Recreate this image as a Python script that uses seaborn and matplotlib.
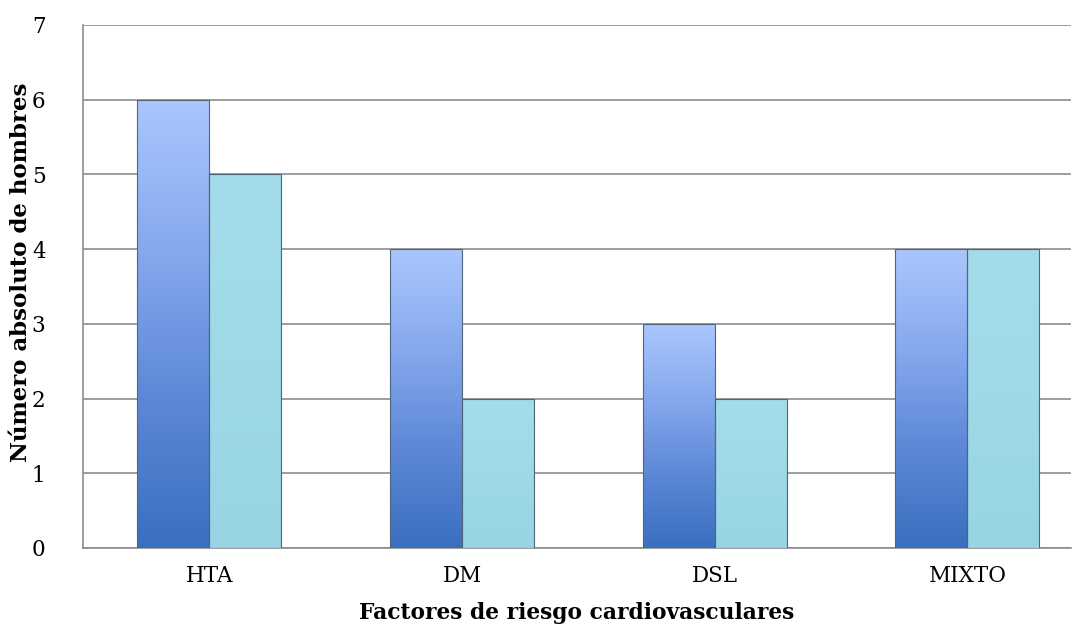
import numpy as np
import pandas as pd
import matplotlib
matplotlib.use("Agg")
import matplotlib.pyplot as plt
from matplotlib.colors import LinearSegmentedColormap
import seaborn as sns

categorias = ["HTA", "DM", "DSL", "MIXTO"]
serie_1 = [6, 4, 3, 4]
serie_2 = [5, 2, 2, 4]
series = ["Serie 1", "Serie 2"]

df = pd.DataFrame({
    "factor": categorias * 2,
    "valor": serie_1 + serie_2,
    "serie": [series[0]] * 4 + [series[1]] * 4,
})

sns.set_style("white")
plt.rcParams["font.family"] = ["DejaVu Serif"]
plt.rcParams["text.color"] = "black"
plt.rcParams["axes.labelcolor"] = "black"
plt.rcParams["xtick.color"] = "black"
plt.rcParams["ytick.color"] = "black"

fig = plt.figure(figsize=(10.84, 6.41), dpi=100)
ax = fig.add_axes([0.0766, 0.1451, 0.9114, 0.8159])

sns.barplot(data=df, x="factor", y="valor", hue="serie", order=categorias,
            hue_order=series, palette=["#6f97e0", "#9ed8e7"], width=0.57,
            dodge=True, legend=False, ax=ax, edgecolor="#50657a", linewidth=0.8,
            zorder=3)

ax.set_yticks(range(0, 8))
ax.yaxis.grid(True, color="#8c8c8c", linewidth=1.2, zorder=0)
ax.xaxis.grid(False)
for s in ["top", "right"]:
    ax.spines[s].set_visible(False)
for s in ["left", "bottom"]:
    ax.spines[s].set_color("#8c8c8c")
    ax.spines[s].set_linewidth(1.2)
ax.tick_params(axis="both", length=0, labelsize=15.5)
ax.tick_params(axis="x", pad=12)
ax.tick_params(axis="y", pad=27)

ax.set_xlabel("Factores de riesgo cardiovasculares", fontsize=15.7, fontweight="bold")
ax.xaxis.set_label_coords(0.5, -0.124)
ax.xaxis.label.set_va("center")
ax.set_ylabel("Número absoluto de hombres", fontsize=16.5, fontweight="bold", va="center")
ax.yaxis.set_label_coords(-0.0628, 0.527)

# gradient fill for the bars
cmap_azul = LinearSegmentedColormap.from_list("azul", ["#3a6fbf", "#5d88d6", "#86a9ee", "#aac6fd"])
cmap_cian = LinearSegmentedColormap.from_list("cian", ["#98d4e4", "#9fd9e8", "#a4dcea"])
grad = np.linspace(0, 1, 256).reshape(-1, 1)
n = len(categorias)
for i, p in enumerate(ax.patches[:2 * n]):
    x0, y0 = p.get_x(), p.get_y()
    w, h = p.get_width(), p.get_height()
    cmap = cmap_azul if i < n else cmap_cian
    im = ax.imshow(grad, cmap=cmap, origin="lower", aspect="auto",
                   extent=[x0, x0 + w, y0, y0 + h], zorder=3.5)
    im.set_clip_path(p)
    p.set_facecolor("none")
    p.set_zorder(4)

ax.set_xlim(-0.5, -0.5 + 988 / 252.7)
ax.set_ylim(0, 7)

fig.savefig("out.png", dpi=100)
